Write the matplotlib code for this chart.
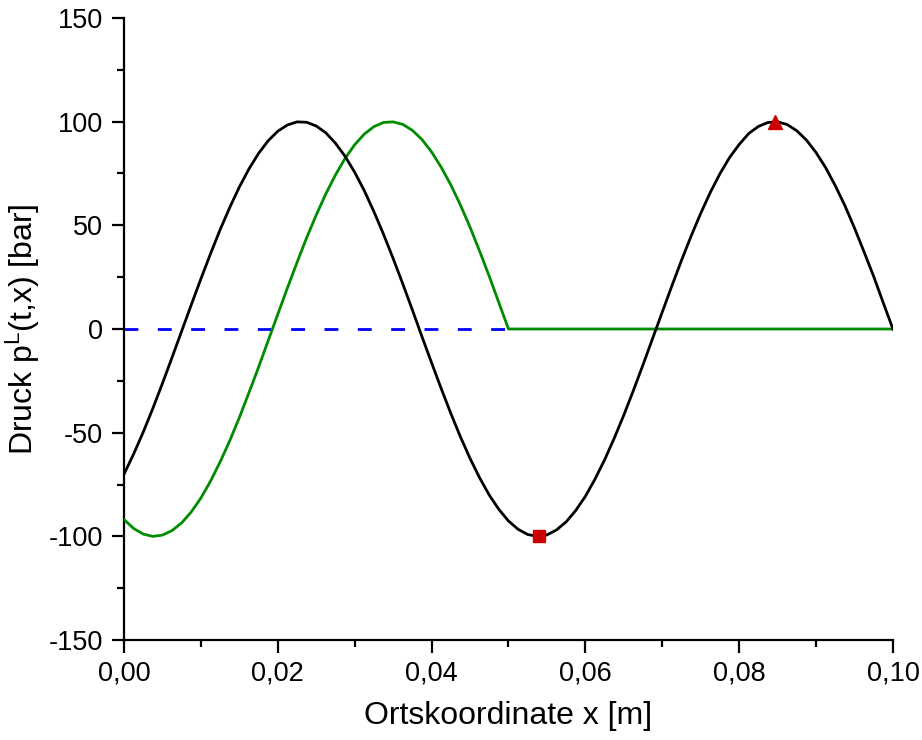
import matplotlib.pyplot as plt
from matplotlib.ticker import MultipleLocator, FuncFormatter

plt.rcParams['font.family'] = ['Liberation Sans', 'DejaVu Sans']
plt.rcParams['mathtext.fontset'] = 'custom'
plt.rcParams['mathtext.rm'] = 'Liberation Sans'
plt.rcParams['mathtext.it'] = 'Liberation Sans:italic'

# Ortskoordinate x [m], Schrittweite 0,00125
x = [0.0, 0.00125, 0.0025, 0.00375, 0.005, 0.00625, 0.0075, 0.00875,
     0.01, 0.01125, 0.0125, 0.01375, 0.015, 0.01625, 0.0175, 0.01875,
     0.02, 0.02125, 0.0225, 0.02375, 0.025, 0.02625, 0.0275, 0.02875,
     0.03, 0.03125, 0.0325, 0.03375, 0.035, 0.03625, 0.0375, 0.03875,
     0.04, 0.04125, 0.0425, 0.04375, 0.045, 0.04625, 0.0475, 0.04875,
     0.05, 0.05125, 0.0525, 0.05375, 0.055, 0.05625, 0.0575, 0.05875,
     0.06, 0.06125, 0.0625, 0.06375, 0.065, 0.06625, 0.0675, 0.06875,
     0.07, 0.07125, 0.0725, 0.07375, 0.075, 0.07625, 0.0775, 0.07875,
     0.08, 0.08125, 0.0825, 0.08375, 0.085, 0.08625, 0.0875, 0.08875,
     0.09, 0.09125, 0.0925, 0.09375, 0.095, 0.09625, 0.0975, 0.09875,
     0.1]

# Druck, schwarze Kurve [bar]
p_schwarz = [-70.0, -60.3, -49.7, -38.3, -26.2, -13.7, -1.0, 11.7,
             24.2, 36.3, 47.9, 58.6, 68.5, 77.2, 84.7, 90.8,
             95.4, 98.4, 99.9, 99.7, 97.9, 94.6, 89.6, 83.3,
             75.6, 66.7, 56.6, 45.7, 34.0, 21.8, 9.2, -3.7,
             -16.3, -28.7, -40.7, -52.0, -62.4, -71.8, -80.1, -87.0,
             -92.6, -96.6, -99.1, -100.0, -99.3, -96.9, -93.0, -87.5,
             -80.7, -72.4, -63.1, -52.7, -41.5, -29.6, -17.2, -4.5,
             8.2, 20.8, 33.1, 44.8, 55.8, 65.9, 74.9, 82.7,
             89.0, 94.3, 97.7, 99.6, 99.9, 98.6, 95.6, 91.1,
             85.1, 77.8, 69.1, 59.5, 48.7, 37.1, 25.3, 12.5,
             0.0]

# Druck, gruene Kurve [bar], ab x = 0,05 gleich null
x_gruen = x[:41] + [0.1]
p_gruen = [-91.9, -96.2, -98.9, -100.0, -99.4, -97.2, -93.5, -88.2,
           -81.5, -73.4, -64.1, -53.9, -42.7, -30.7, -18.4, -5.6,
           7.1, 19.8, 32.1, 44.0, 55.0, 65.2, 74.3, 82.3,
           88.9, 94.0, 97.6, 99.6, 99.9, 98.7, 95.8, 91.4,
           85.4, 78.0, 69.5, 59.8, 49.1, 37.5, 25.4, 12.7,
           0.0, 0.0]

# gestrichelte Nulllinie
x_blau = [0.0, 0.05]
p_blau = [0.0, 0.0]

# markierte Extrema
x_min, p_min = 0.054, -100.0
x_max, p_max = 0.0846, 100.0

fig = plt.figure(figsize=(9.22, 7.4), dpi=100)
ax = fig.add_axes([0.1345, 0.1351, 0.834, 0.8406])

ax.plot(x_blau, p_blau, color='#0000ff', lw=2.0, linestyle=(0, (5, 7)), zorder=2)
ax.plot(x_gruen, p_gruen, color='#008c00', lw=2.0, zorder=3)
ax.plot(x, p_schwarz, color='black', lw=2.0, zorder=4)
ax.plot([x_min], [p_min], marker='s', ms=9, color='#cc0000', zorder=5)
ax.plot([x_max], [p_max], marker='^', ms=10, color='#cc0000', zorder=5)

ax.set_xlim(0, 0.1)
ax.set_ylim(-150, 150)
ax.xaxis.set_major_locator(MultipleLocator(0.02))
ax.xaxis.set_minor_locator(MultipleLocator(0.01))
ax.yaxis.set_major_locator(MultipleLocator(50))
ax.yaxis.set_minor_locator(MultipleLocator(25))
ax.xaxis.set_major_formatter(FuncFormatter(lambda v, pos: f'{v:.2f}'.replace('.', ',')))
ax.yaxis.set_major_formatter(FuncFormatter(lambda v, pos: f'{v:.0f}'))

for s in ['top', 'right']:
    ax.spines[s].set_visible(False)
for s in ['left', 'bottom']:
    ax.spines[s].set_linewidth(1.6)

ax.tick_params(which='major', direction='out', length=9, width=1.6, labelsize=19.5, pad=6)
ax.tick_params(which='minor', direction='out', length=5, width=1.6)

ax.set_xlabel('Ortskoordinate x [m]', fontsize=23, labelpad=10)
ax.set_ylabel(r'Druck p$^{\mathrm{L}}$(t,x) [bar]', fontsize=23, labelpad=5)

fig.savefig('out.png', dpi=100)
